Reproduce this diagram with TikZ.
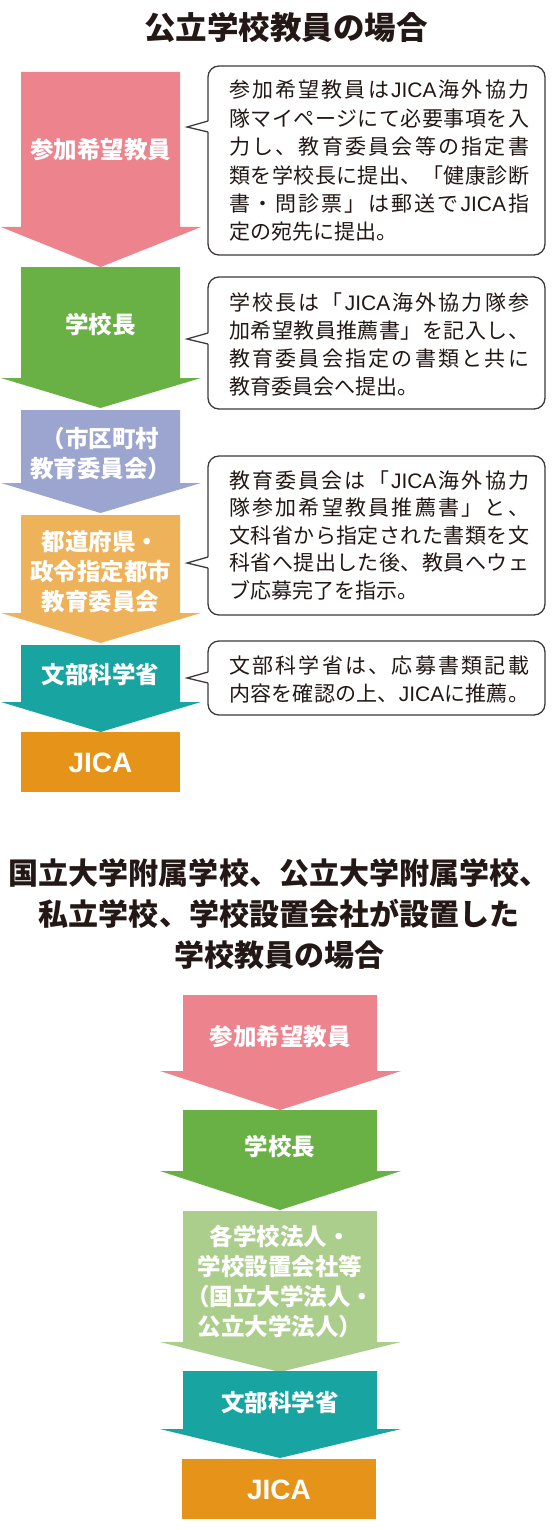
\documentclass[tikz,border=0pt]{standalone}
\usepackage{fontspec}
\newfontfamily\jp{Noto Sans CJK JP}
\newfontfamily\lat{Liberation Sans}
\definecolor{txtC}{HTML}{231815}
\definecolor{lineC}{HTML}{3E3A39}
\definecolor{pinkC}{HTML}{EC838D}
\definecolor{greenC}{HTML}{6AB145}
\definecolor{lavC}{HTML}{9BA5CF}
\definecolor{yelC}{HTML}{EEB25A}
\definecolor{tealC}{HTML}{18A4A1}
\definecolor{orgC}{HTML}{E69419}
\definecolor{lgreenC}{HTML}{ABCE8C}
\newdimen\jlw \jlw=300pt
\newcommand\J{{\lat JICA}}
\makeatletter
\def\jl@start#1{#1\jl@next}
\def\jl@next#1{\ifx\relax#1\else\hfil#1\expandafter\jl@next\fi}
\newcommand\jline[1]{\hbox to \jlw{\jl@start#1\relax}}
\makeatother
% colour, body x1, body x2, wing x1, wing x2, top, shoulder, tip
\newcommand\flowarr[8]{\fill[#1] (#2,#6) -- (#3,#6) -- (#3,#7) -- (#5,#7) -- ({(#2+#3)/2},#8) -- (#4,#7) -- (#2,#7) -- cycle;}
% name, top, bottom, pointer y
\newcommand\callbox[4]{%
  \draw[callout] (208,#2) rectangle (545,#3);
  \coordinate (#1tip) at (187,#4);
  \coordinate (#1a) at (208,#4-6);
  \coordinate (#1b) at (208,#4+5);
  \fill[white] (#1tip) -- ([xshift=1.2pt]#1a) -- ([xshift=1.2pt]#1b) -- cycle;
  \draw[ptr] (#1a) -- (#1tip) -- (#1b);
}
\tikzset{
  callout/.style={draw=lineC, line width=1.3pt, fill=white, rounded corners=11pt},
  ptr/.style={draw=lineC, line width=1.3pt, line join=miter},
  ctext/.style={inner sep=0pt, anchor=base west, text=txtC, font=\jp\fontsize{21}{28}\selectfont},
  atext/.style={inner sep=0pt, text=white, align=center, font=\jp\bfseries\fontsize{23.5}{30}\selectfont},
  jtext/.style={inner sep=0pt, text=white, font=\lat\bfseries\fontsize{28}{30}\selectfont},
  ttl/.style={inner sep=0pt, text=txtC, align=center, font=\jp\bfseries\fontsize{30}{41}\selectfont},
}
\begin{document}
\begin{tikzpicture}[x=1pt,y=-1pt]
\useasboundingbox (0,0) rectangle (556,1530);
\fill[white] (0,0) rectangle (556,1530);

% ---------- top section ----------
\node[ttl, font=\jp\bfseries\fontsize{31.5}{41}\selectfont] (title1) at (286,28) {公立学校教員の場合};

\flowarr{pinkC}{21}{180}{1}{201}{72}{227}{267}
\flowarr{greenC}{21}{180}{1}{201}{267}{378}{408}
\flowarr{lavC}{21}{180}{1}{201}{410}{483}{513}
\flowarr{yelC}{21}{180}{1}{201}{515}{613}{643}
\flowarr{tealC}{21}{180}{1}{201}{645}{702}{732}
\fill[orgC] (21,732) rectangle (180,792);

\node[atext] (a1) at (100.5,150) {参加希望教員};
\node[atext] (a2) at (100.5,325) {学校長};
\node[atext] (a3) at (100.5,454) {（市区町村\\教育委員会）};
\node[atext] (a4) at (100.5,572) {都道府県・\\政令指定都市\\教育委員会};
\node[atext] (a5) at (100.5,675) {文部科学省};
\node[jtext] (a6) at (100.5,763) {JICA};

\callbox{c1}{66}{255}{127}
\callbox{c2}{277}{409}{339}
\callbox{c3}{456}{615}{563}
\callbox{c4}{641}{715}{678}

\node[ctext] (c1text) at (229,98) {\vtop{\baselineskip=28.4pt
  \jline{参加希望教員は{\J}海外協力}
  \jline{隊マイページにて必要事項を入}
  \jline{力し、教育委員会等の指定書}
  \jline{類を学校長に提出、「健康診断}
  \jline{書・問診票」は郵送で{\J}指}
  \hbox{定の宛先に提出。}}};

\node[ctext] (c2text) at (229,310) {\vtop{\baselineskip=28.3pt
  \jline{学校長は「{\J}海外協力隊参}
  \jline{加希望教員推薦書」を記入し、}
  \jline{教育委員会指定の書類と共に}
  \hbox{教育委員会へ提出。}}};

\node[ctext] (c3text) at (229,488) {\vtop{\baselineskip=27.5pt
  \jline{教育委員会は「{\J}海外協力}
  \jline{隊参加希望教員推薦書」と、}
  \jline{文科省から指定された書類を文}
  \jline{科省へ提出した後、教員へウェ}
  \hbox{ブ応募完了を指示。}}};

\node[ctext] (c4text) at (229,673) {\vtop{\baselineskip=28pt
  \jline{文部科学省は、応募書類記載}
  \jline{内容を確認の上、{\J}に推薦。}}};

% ---------- bottom section ----------
\node[ttl] (title2) at (279,914) {国立大学附属学校、公立大学附属学校、\\私立学校、学校設置会社が設置した\\学校教員の場合};

\flowarr{pinkC}{183}{377}{160}{401}{995}{1071}{1110}
\flowarr{greenC}{183}{377}{160}{401}{1110}{1171}{1210}
\flowarr{lgreenC}{183}{377}{160}{401}{1211}{1342}{1372}
\flowarr{tealC}{183}{377}{160}{401}{1371}{1429}{1458}
\fill[orgC] (182,1459) rectangle (376,1519);

\node[atext] (b1) at (280,1037) {参加希望教員};
\node[atext] (b2) at (280,1147) {学校長};
\node[atext] (b3) at (280,1282) {各学校法人・\\学校設置会社等\\（国立大学法人・\\公立大学法人）};
\node[atext] (b4) at (280,1403) {文部科学省};
\node[jtext] (b5) at (279,1490) {JICA};
\end{tikzpicture}
\end{document}
